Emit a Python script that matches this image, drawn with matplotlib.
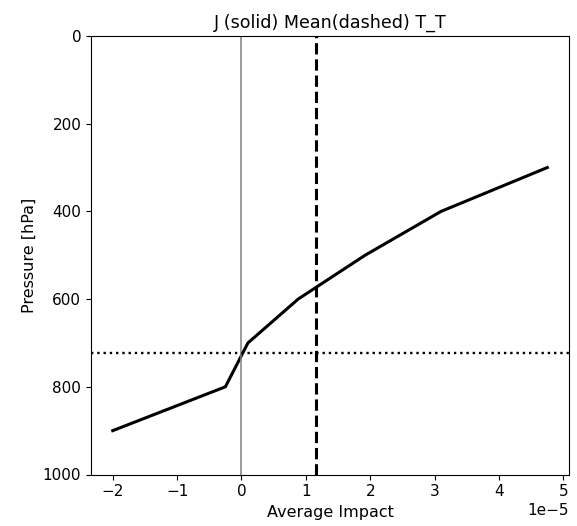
import matplotlib
matplotlib.use("Agg")
import matplotlib.pyplot as plt

impact = [-2.0e-5, -0.25e-5, 0.10e-5, 0.88e-5, 1.92e-5, 3.10e-5, 4.75e-5]
pressure = [900, 800, 700, 600, 500, 400, 300]
mean_impact = 1.16e-5
ref_pressure = 722

plt.rcParams['xtick.labelsize'] = 11
plt.rcParams['ytick.labelsize'] = 11

fig = plt.figure(figsize=(5.77, 5.26), dpi=100)
ax = fig.add_axes([91/577, 1-474.5/526, (569-91)/577, (474.5-36)/526])
ax.plot(impact, pressure, color='black', lw=2.2)
ax.axvline(0, color='gray', lw=1.1)
ax.axvline(mean_impact, color='black', ls='--', lw=2.2)
ax.axhline(ref_pressure, color='black', ls=':', lw=1.7)
ax.set_ylim(1000, 0)
ax.set_xlabel('Average Impact', fontsize=11.5)
ax.set_ylabel('Pressure [hPa]', fontsize=11.5)
ax.set_title('J (solid) Mean(dashed) T_T', fontsize=12.6)
ax.xaxis.get_offset_text().set_fontsize(11)
fig.savefig('out.png', dpi=100)
